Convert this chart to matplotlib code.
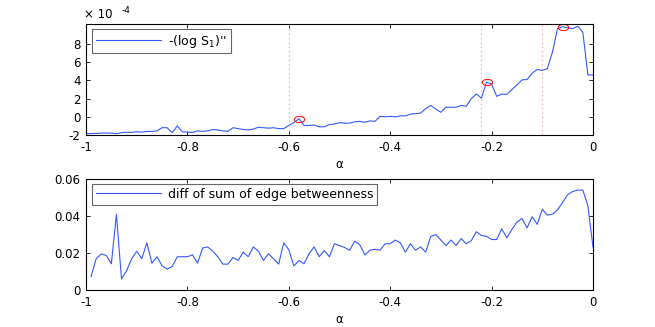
import numpy as np
import matplotlib
matplotlib.use('Agg')
import matplotlib.pyplot as plt
from matplotlib.path import Path
from matplotlib.transforms import Affine2D

plt.rcParams['font.family'] = 'DejaVu Sans'
plt.rcParams['axes.unicode_minus'] = False

# top panel: -(log S1)'' in units of 1e-4, alpha = -1.00 ... 0.00 step 0.01
alpha_top = np.round(np.arange(-1.0, 0.001, 0.01), 2)
curv_e4 = [-1.85, -1.85, -1.83, -1.8, -1.78, -1.8, -1.85, -1.75, -1.7, -1.72,
           -1.65, -1.68, -1.62, -1.6, -1.55, -1.2, -1.2, -1.75, -1.0, -1.65,
           -1.7, -1.72, -1.55, -1.6, -1.55, -1.4, -1.45, -1.55, -1.6, -1.2,
           -1.3, -1.4, -1.45, -1.35, -1.15, -1.2, -1.25, -1.2, -1.3, -1.3,
           -0.95, -0.65, -0.2, -0.95, -0.95, -0.9, -1.1, -1.1, -0.85, -0.8,
           -0.65, -0.7, -0.7, -0.55, -0.5, -0.6, -0.45, -0.5, 0.05, 0.0,
           0.05, 0.0, 0.1, 0.1, 0.3, 0.35, 0.4, 0.9, 1.25, 0.85,
           0.5, 1.05, 1.05, 1.05, 1.25, 1.15, 2.0, 2.5, 2.05, 3.8,
           3.6, 2.25, 2.5, 2.45, 3.0, 3.5, 4.05, 4.1, 4.8, 5.2,
           5.1, 5.3, 7.1, 9.7, 9.9, 9.8, 9.7, 9.95, 9.3, 4.6,
           4.6]
peak_alpha = [-0.58, -0.21, -0.06]
peak_val = [-0.2, 3.8, 9.9]
vlines = [-0.6, -0.22, -0.1]

# bottom panel: diff of sum of edge betweenness, alpha = -0.99 ... 0.00
alpha_bot = np.round(np.arange(-0.99, 0.001, 0.01), 2)
betw_diff = [0.0073, 0.0169, 0.0195, 0.0187, 0.0142, 0.0409, 0.006, 0.0104, 0.0169, 0.021,
             0.0169, 0.0255, 0.0145, 0.018, 0.013, 0.0113, 0.0127, 0.018, 0.018, 0.018,
             0.019, 0.0145, 0.0227, 0.0233, 0.021, 0.018, 0.014, 0.014, 0.0176, 0.016,
             0.0204, 0.018, 0.0233, 0.021, 0.016, 0.0196, 0.0169, 0.014, 0.0255, 0.0218,
             0.013, 0.016, 0.0142, 0.0196, 0.0233, 0.018, 0.0213, 0.018, 0.025, 0.024,
             0.023, 0.0215, 0.0264, 0.0245, 0.019, 0.0215, 0.022, 0.0215, 0.025, 0.025,
             0.027, 0.0255, 0.0205, 0.025, 0.0215, 0.0233, 0.0205, 0.029, 0.030, 0.027,
             0.024, 0.027, 0.024, 0.0278, 0.025, 0.0267, 0.0315, 0.0295, 0.029, 0.0273,
             0.0273, 0.0331, 0.0282, 0.0327, 0.0367, 0.0387, 0.0336, 0.0396, 0.0355, 0.0436,
             0.0405, 0.041, 0.0433, 0.0473, 0.0515, 0.0533, 0.054, 0.054, 0.0455, 0.0233]

xticks = [-1, -0.8, -0.6, -0.4, -0.2, 0]
xticklabels = ['-1', '-0.8', '-0.6', '-0.4', '-0.2', '0']
top_yticks = [-2, 0, 2, 4, 6, 8]
bot_yticks = [0, 0.02, 0.04, 0.06]
bot_yticklabels = ['0', '0.02', '0.04', '0.06']

line_col = (0.2, 0.35, 1.0)
fs = 8.5

fig = plt.figure(figsize=(6.55, 3.27), dpi=100)
ax1 = fig.add_axes([0.1313, 0.5872, 0.774, 0.3394])
ax2 = fig.add_axes([0.1313, 0.1131, 0.774, 0.3394])


def style_axis(ax):
    ax.set_xlim(-1, 0)
    ax.set_xticks(xticks)
    ax.set_xticklabels(xticklabels)
    ax.tick_params(direction='in', length=3, width=0.6, top=True, right=True,
                   labelsize=fs, pad=4)
    for s in ax.spines.values():
        s.set_linewidth(0.8)
    ax.set_xlabel('α', fontsize=fs, labelpad=3)


# ellipse marker for the red circles
ell = Path.unit_circle().transformed(Affine2D().scale(1.0, 0.6))

ax1.plot(alpha_top, curv_e4, color=line_col, lw=0.8, label="-(log S$_1$)''")
for v in vlines:
    ax1.axvline(v, color='#f4a0a0', ls=(0, (1, 2.5)), lw=0.9)
ax1.plot(peak_alpha, peak_val, ls='none', marker=ell, ms=7.5, mfc='none',
         mec='red', mew=0.7)
ax1.set_ylim(-2, 10.2)
ax1.set_yticks(top_yticks)
style_axis(ax1)
fig.text(0.129, 0.935, '× 10', fontsize=fs, ha='left', va='bottom')
fig.text(0.185, 0.955, '-4', fontsize=6.5, ha='left', va='bottom')

ax2.plot(alpha_bot, betw_diff, color=line_col, lw=0.8,
         label='diff of sum of edge betweenness')
ax2.set_ylim(0, 0.06)
ax2.set_yticks(bot_yticks)
ax2.set_yticklabels(bot_yticklabels)
style_axis(ax2)

for ax in (ax1, ax2):
    leg = ax.legend(loc='upper left', bbox_to_anchor=(0.0118, 0.955),
                    borderaxespad=0, fontsize=9, fancybox=False,
                    handlelength=5.2, handletextpad=0.6, borderpad=0.3)
    leg.get_frame().set_edgecolor('#404040')
    leg.get_frame().set_linewidth(0.8)

fig.savefig('out.png', dpi=100)
